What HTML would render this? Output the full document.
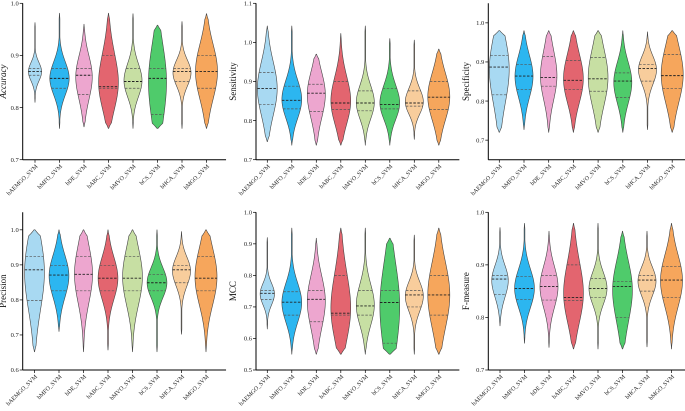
<!DOCTYPE html>
<html><head><meta charset="utf-8"><style>
html,body{margin:0;padding:0;background:#fff;}
svg{display:block;font-family:"Liberation Serif",serif;}
</style></head><body>
<svg id="chart" width="685" height="411" viewBox="0 0 685 411"></svg>
<script>
const categories = ["bAEMGO_SVM","bMFO_SVM","bDE_SVM","bABC_SVM","bMVO_SVM","bCS_SVM","bHCA_SVM","bMGO_SVM"];
const colors = ["#a8d9f2","#2cb6f0","#eda6cf","#e3656f","#c7dfa3","#4fcb6b","#f8cd9c","#f6a65c"];

const accMin = [0.81,0.76,0.763,0.76,0.76,0.76,0.76,0.76];
const accMax = [0.963,0.981,0.96,0.981,0.98,0.958,0.965,0.98];
const accQ1  = [0.862,0.837,0.825,0.837,0.837,0.787,0.85,0.837];
const accMed = [0.869,0.856,0.862,0.84,0.85,0.856,0.869,0.869];
const accQ3  = [0.875,0.875,0.875,0.90,0.875,0.875,0.875,0.90];
const accWidth = [0.6,0.88,0.75,0.9,0.82,0.82,0.82,1.0];

const senMin = [0.746,0.737,0.737,0.737,0.737,0.737,0.752,0.737];
const senMax = [1.042,1.042,0.97,1.023,1.042,1.01,1.006,0.983];
const senQ1  = [0.841,0.83,0.823,0.828,0.825,0.83,0.837,0.828];
const senMed = [0.882,0.852,0.87,0.845,0.845,0.841,0.845,0.86];
const senQ3  = [0.923,0.888,0.893,0.90,0.876,0.882,0.876,0.90];
const senWidth = [0.9,0.9,0.82,0.9,0.82,0.9,0.82,1.0];

const speMin = [0.72,0.727,0.72,0.72,0.72,0.72,0.727,0.72];
const speMax = [0.98,0.98,0.98,0.98,0.98,0.98,0.977,0.98];
const speQ1  = [0.816,0.829,0.838,0.829,0.825,0.809,0.851,0.832];
const speMed = [0.887,0.864,0.86,0.853,0.857,0.851,0.883,0.865];
const speQ3  = [0.917,0.894,0.914,0.904,0.911,0.872,0.894,0.919];
const speWidth = [0.9,0.82,0.75,0.9,0.9,0.82,0.82,1.0];

const preMin = [0.652,0.71,0.652,0.657,0.652,0.652,0.702,0.652];
const preMax = [1.0,1.0,1.0,1.0,1.0,1.0,0.995,1.0];
const preQ1  = [0.798,0.826,0.826,0.826,0.826,0.826,0.849,0.826];
const preMed = [0.886,0.871,0.873,0.862,0.862,0.849,0.886,0.862];
const preQ3  = [0.924,0.898,0.924,0.898,0.924,0.873,0.898,0.924];
const preWidth = [0.9,0.9,0.82,0.9,0.9,0.9,0.82,1.0];

const mccMin = [0.63,0.55,0.55,0.55,0.55,0.55,0.55,0.55];
const mccMax = [0.92,0.95,0.918,0.95,0.95,0.918,0.928,0.95];
const mccQ1  = [0.724,0.674,0.653,0.674,0.674,0.585,0.70,0.674];
const mccMed = [0.743,0.715,0.724,0.68,0.703,0.714,0.738,0.738];
const mccQ3  = [0.752,0.748,0.752,0.80,0.752,0.752,0.752,0.80];
const mccWidth = [0.65,0.9,0.82,0.9,0.82,0.9,0.82,1.0];

const fmeMin = [0.784,0.751,0.743,0.74,0.74,0.74,0.744,0.74];
const fmeMax = [0.971,0.979,0.964,0.979,0.979,0.964,0.964,0.979];
const fmeQ1  = [0.844,0.834,0.833,0.832,0.838,0.80,0.85,0.838];
const fmeMed = [0.873,0.855,0.859,0.838,0.855,0.859,0.871,0.871];
const fmeQ3  = [0.88,0.878,0.88,0.90,0.874,0.868,0.88,0.897];
const fmeWidth = [0.75,0.9,0.82,0.9,0.82,0.9,0.82,1.0];

const panels = [
 {name:"accuracy",title:"Accuracy",italic:true,min:accMin,max:accMax,q1:accQ1,med:accMed,q3:accQ3,w:accWidth,
  ax:22.7,top:3.3,bot:159.7,d0:0.7,d1:1.0,ticks:[0.7,0.8,0.9,1.0],c0:35,step:24.5,tx:6},
 {name:"sensitivity",title:"Sensitivity",italic:false,min:senMin,max:senMax,q1:senQ1,med:senMed,q3:senQ3,w:senWidth,
  ax:256,top:3.3,bot:159.7,d0:0.7,d1:1.1,ticks:[0.7,0.8,0.9,1.0,1.1],c0:267.3,step:24.5,tx:236},
 {name:"specificity",title:"Specificity",italic:false,min:speMin,max:speMax,q1:speQ1,med:speMed,q3:speQ3,w:speWidth,
  ax:488.3,top:3.3,bot:159.7,d0:0.65,d1:1.05,ticks:[0.7,0.8,0.9,1.0],c0:499.3,step:24.7,tx:469},
 {name:"precision",title:"Precision",italic:false,min:preMin,max:preMax,q1:preQ1,med:preMed,q3:preQ3,w:preWidth,
  ax:22.7,top:212.3,bot:370,d0:0.6,d1:1.05,ticks:[0.6,0.7,0.8,0.9,1.0],c0:34.5,step:24.5,tx:6},
 {name:"mcc",title:"MCC",italic:false,min:mccMin,max:mccMax,q1:mccQ1,med:mccMed,q3:mccQ3,w:mccWidth,
  ax:256,top:212.3,bot:370,d0:0.5,d1:1.0,ticks:[0.5,0.6,0.7,0.8,0.9,1.0],c0:267.3,step:24.5,tx:236},
 {name:"f-measure",title:"F-measure",italic:false,min:fmeMin,max:fmeMax,q1:fmeQ1,med:fmeMed,q3:fmeQ3,w:fmeWidth,
  ax:488.3,top:212.3,bot:370,d0:0.7,d1:1.0,ticks:[0.7,0.8,0.9,1.0],c0:500,step:24.5,tx:469}
];

const NS="http://www.w3.org/2000/svg";
const svg=document.getElementById('chart');
function mk(tag,attrs,parent){const e=document.createElementNS(NS,tag);for(const k in attrs)e.setAttribute(k,attrs[k]);(parent||svg).appendChild(e);return e;}
const MAXHW=11;

panels.forEach(p=>{
  const g=mk('g',{});
  
  
  const y=v=>p.bot-(v-p.d0)/(p.d1-p.d0)*(p.bot-p.top);
  const xc=i=>p.c0+i*p.step;
  const xEnd=p.ax+p.step*8.3;
  categories.forEach((c,i)=>{
    const mn=p.min[i],mx=p.max[i],q1=p.q1[i],md=p.med[i],q3=p.q3[i],hw=p.w[i]*MAXHW;
    const s=Math.max((q3-q1)/1.35,(mx-mn)/9);
    const gs=(v,m)=>Math.exp(-0.5*Math.pow((v-m)/s,2));
    const raw=v=>0.5*gs(v,md)+0.25*gs(v,q1)+0.25*gs(v,q3);
    const N=80;let peak=0;
    for(let k=0;k<=N;k++){peak=Math.max(peak,raw(mn+(mx-mn)*k/N));}
    const f=v=>{
      const t=(v-mn)/(mx-mn);
      const edge=Math.min(1,Math.min(t,1-t)/0.05);
      return Math.max(0.04,raw(v)/peak)*(0.1+0.9*edge);
    };
    const right=[],left=[];
    for(let k=0;k<=N;k++){const v=mn+(mx-mn)*k/N;const w=hw*f(v);right.push([xc(i)+w,y(v)]);left.push([xc(i)-w,y(v)]);}
    const pts=right.concat(left.reverse()).map(q=>q[0].toFixed(2)+','+q[1].toFixed(2)).join(' ');
    const vg=mk('g',{},g);
    
    
    mk('polygon',{points:pts,fill:colors[i],stroke:'#444','stroke-width':0.6,'stroke-linejoin':'round'},vg);
    [[q1,'#555',0.7],[md,'#222',0.9],[q3,'#555',0.7]].forEach(([v,col,sw])=>{
      const w=hw*f(v);
      mk('line',{x1:xc(i)-w,x2:xc(i)+w,y1:y(v),y2:y(v),stroke:col,'stroke-width':sw,'stroke-dasharray':'2.5,1.5'},vg);
    });
    mk('line',{x1:xc(i),x2:xc(i),y1:p.bot,y2:p.bot+3,stroke:'#000','stroke-width':0.7},g);
    const tx=mk('text',{x:xc(i)+3,y:p.bot+7,'font-size':6,'text-anchor':'end',fill:'#222',transform:`rotate(-45 ${xc(i)+3} ${p.bot+7})`},g);
    tx.textContent=c;
    
    
  });
  mk('line',{x1:p.ax,x2:p.ax,y1:p.top,y2:p.bot,stroke:'#000','stroke-width':1},g);
  mk('line',{x1:p.ax,x2:xEnd,y1:p.bot,y2:p.bot,stroke:'#000','stroke-width':1},g);
  p.ticks.forEach(t=>{
    mk('line',{x1:p.ax-3,x2:p.ax,y1:y(t),y2:y(t),stroke:'#000','stroke-width':0.7},g);
    const lt=mk('text',{x:p.ax-4,y:y(t)+2.2,'font-size':6.5,'text-anchor':'end',fill:'#222'},g);
    lt.textContent=t.toFixed(1);
    
    
  });
  const my=(p.top+p.bot)/2;
  const tt=mk('text',{x:p.tx,y:my,'font-size':9,'text-anchor':'middle',fill:'#111','font-style':p.italic?'italic':'normal',transform:`rotate(-90 ${p.tx} ${my})`},g);
  tt.textContent=p.title;
  
  
});
</script>
</body></html>
